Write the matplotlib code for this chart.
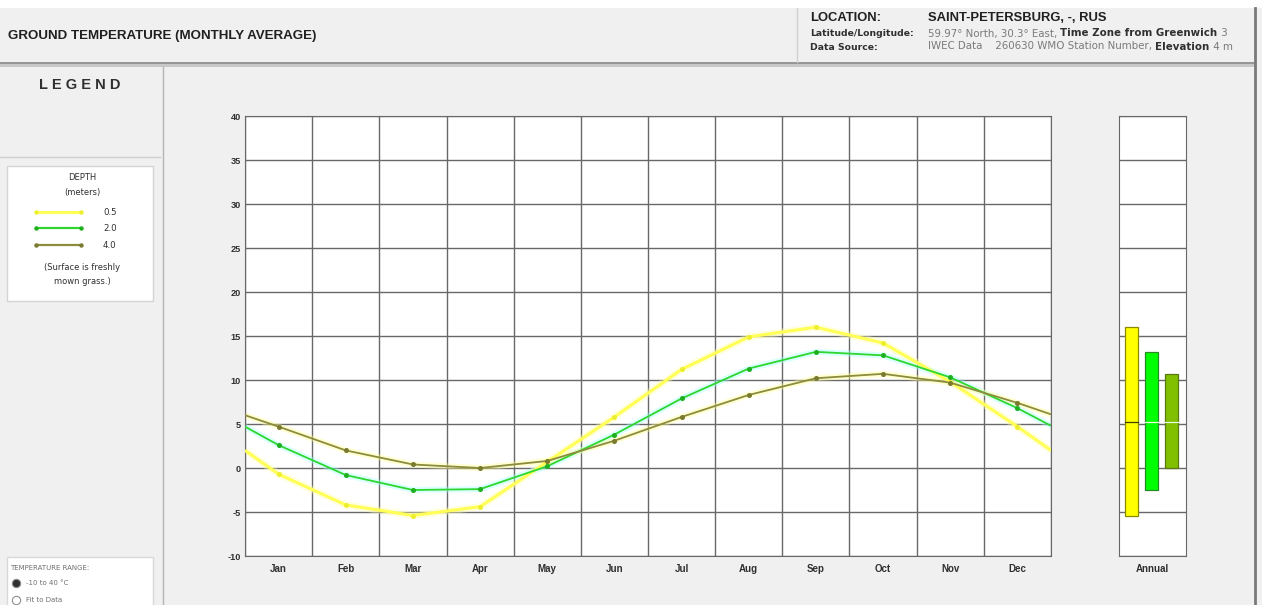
import numpy as np
import matplotlib
matplotlib.use("Agg")
import matplotlib.pyplot as plt
from matplotlib.patches import Rectangle
from matplotlib.lines import Line2D

plt.rcParams['font.family'] = ['Liberation Sans', 'DejaVu Sans']

# ---- monthly average ground temperature (C) at three depths ----
months = ['Jan', 'Feb', 'Mar', 'Apr', 'May', 'Jun',
          'Jul', 'Aug', 'Sep', 'Oct', 'Nov', 'Dec']
depths = ['0.5', '2.0', '4.0']
temp_05 = [-0.7, -4.2, -5.4, -4.4, 0.7, 5.8, 11.2, 14.9, 16.0, 14.2, 9.8, 4.7]
temp_20 = [2.6, -0.8, -2.5, -2.4, 0.2, 3.8, 7.9, 11.3, 13.2, 12.8, 10.3, 6.8]
temp_40 = [4.7, 2.0, 0.4, 0.0, 0.8, 3.1, 5.8, 8.3, 10.2, 10.7, 9.7, 7.4]
# values where the curves meet the year boundaries (1 Jan / 31 Dec)
edge_start = [2.0, 4.7, 6.0]
edge_end = [2.0, 4.8, 6.1]
yticks = [-10, -5, 0, 5, 10, 15, 20, 25, 30, 35, 40]

line_cols = ['#ffff55', '#2fd62f', '#8c8c3c']
halo_cols = ['#ffffb0', '#a0ffff', '#ffff90']
mark_cols = ['#eeee30', '#1fb01f', '#7a7a30']
bar_cols = ['#ffff00', '#00ff00', '#80c000']
bar_edge = ['#8a8a00', '#2a8a2a', '#5a7a10']

W, H = 1262, 605
fig = plt.figure(figsize=(W / 100, H / 100), dpi=100, facecolor='#f0f0f0')
VERA = ['DejaVu Sans']


def fx(x):
    return x / W


def fy(y):
    return 1 - y / H


def px_axes(x0, y0, x1, y1):
    return fig.add_axes([fx(x0), fy(y1), fx(x1) - fx(x0), fy(y0) - fy(y1)])


def rect(x0, y0, x1, y1, fc, ec='none', lw=0.0, z=0):
    fig.patches.append(Rectangle((fx(x0), fy(y1)), fx(x1) - fx(x0), fy(y0) - fy(y1),
                                 transform=fig.transFigure, facecolor=fc,
                                 edgecolor=ec, linewidth=lw, zorder=z))


def hline(y, x0, x1, c, lw=1.0):
    fig.add_artist(Line2D([fx(x0), fx(x1)], [fy(y), fy(y)], color=c, lw=lw,
                          transform=fig.transFigure))


def vline(x, y0, y1, c, lw=1.0):
    fig.add_artist(Line2D([fx(x), fx(x)], [fy(y0), fy(y1)], color=c, lw=lw,
                          transform=fig.transFigure))


def dot(x, y, fc, ec, ms):
    fig.add_artist(Line2D([fx(x)], [fy(y)], ls='none', marker='o', ms=ms,
                          mfc=fc, mec=ec, mew=0.8, transform=fig.transFigure))


# ---- page frame ----
rect(0, 0, W, 8, 'white')
rect(0, 62, 1255, 67, '#c8c8c8')
hline(63, 0, 1255, '#8c8c8c', 1.2)
vline(1255, 8, 605, '#7a7a7a', 2.0)
vline(163, 67, 605, '#b4b4b4', 1.0)
vline(797, 8, 62, '#d0d0d0', 1.0)

fig.text(fx(8), fy(36), 'GROUND TEMPERATURE (MONTHLY AVERAGE)', fontsize=9.6,
         fontweight='bold', color='#202020', va='center')

renderer = fig.canvas.get_renderer()


def chain(x, y, parts):
    # draw consecutive text pieces on one baseline
    for s, kw in parts:
        t = fig.text(fx(x), fy(y), s, va='baseline', **kw)
        x += t.get_window_extent(renderer).width
    return x


fig.text(fx(810), fy(18), 'LOCATION:', fontsize=9.4, fontweight='bold',
         color='#202020', va='center')
fig.text(fx(928), fy(18), 'SAINT-PETERSBURG, -, RUS', fontsize=9.4,
         fontweight='bold', color='#202020', va='center')
label_b = dict(fontsize=6.7, fontweight='bold', color='#303030', family=VERA)
small_b = dict(fontsize=7.4, fontweight='bold', color='#303030', family=VERA)
small_g = dict(fontsize=7.4, color='#7a7a7a', family=VERA)
fig.text(fx(810), fy(36.5), 'Latitude/Longitude:', va='baseline', **label_b)
fig.text(fx(810), fy(49.5), 'Data Source:', va='baseline', **label_b)
chain(928, 36.5, [('59.97\u00b0 North, 30.3\u00b0 East, ', small_g),
                  ('Time Zone from Greenwich', small_b), (' 3', small_g)])
chain(928, 49.5, [('IWEC Data    260630 WMO Station Number, ', small_g),
                  ('Elevation', small_b), (' 4 m', small_g)])

# ---- left panel: legend ----
fig.text(fx(80), fy(85), 'L E G E N D', fontsize=10.5, fontweight='bold',
         color='#303030', ha='center', va='center')
hline(157, 0, 160, '#cfcfcf', 1.0)
rect(7, 166, 153, 301, 'white', '#d4d4d4', 1.0)
leg_kw = dict(fontsize=6.0, color='#303030', ha='center', va='center', family=VERA)
fig.text(fx(82), fy(178), 'DEPTH', **leg_kw)
fig.text(fx(82), fy(192), '(meters)', **leg_kw)
for i, lab in enumerate(depths):
    yy = 212 + 16.5 * i
    fig.add_artist(Line2D([fx(36), fx(81)], [fy(yy), fy(yy)], color=line_cols[i],
                          lw=1.6 if i else 2.2, transform=fig.transFigure))
    fig.add_artist(Line2D([fx(36), fx(81)], [fy(yy), fy(yy)], ls='none', marker='o',
                          ms=2.2, color=mark_cols[i], transform=fig.transFigure))
    fig.text(fx(103), fy(yy), lab, fontsize=6.2, color='#303030', va='center',
             family=VERA)
fig.text(fx(82), fy(267), '(Surface is freshly', **leg_kw)
fig.text(fx(82), fy(282), 'mown grass.)', **leg_kw)

rect(7, 557, 153, 610, 'white', '#d8d8d8', 1.0)
tiny = dict(fontsize=5.0, color='#707070', va='center', family=VERA)
fig.text(fx(10), fy(568), 'TEMPERATURE RANGE:', **tiny)
dot(16, 583, '#303030', '#909090', 6)
fig.text(fx(26), fy(583), '-10 to 40 \u00b0C', **tiny)
dot(16, 600, 'white', '#909090', 6)
fig.text(fx(26), fy(600), 'Fit to Data', **tiny)

# ---- main chart ----
grid_c = '#686868'
ax = px_axes(245, 116, 1051, 556)
ax.set_xlim(0, 12)
ax.set_ylim(-10, 40)
ax.set_facecolor('white')
for v in yticks:
    ax.axhline(v, color=grid_c, lw=1.0, zorder=1)
for m in range(13):
    ax.axvline(m, color=grid_c, lw=1.0, zorder=1)
for s in ax.spines.values():
    s.set_color(grid_c)
ax.set_yticks(yticks)
ax.set_yticklabels([str(v) for v in yticks], fontsize=6.6, fontweight='bold', color='#303030')
ax.set_xticks(np.arange(12) + 0.5)
ax.set_xticklabels(months, fontsize=7.0, fontweight='bold', color='#303030')
ax.tick_params(length=0, pad=6)
ax.tick_params(axis='y', pad=3)

series = [temp_05, temp_20, temp_40]
xs = np.concatenate([[0], np.arange(12) + 0.5, [12]])
for i, vals in enumerate(series):
    ys = np.concatenate([[edge_start[i]], vals, [edge_end[i]]])
    lw = 2.2 if i == 0 else 1.3
    ax.plot(xs, ys, color=halo_cols[i], lw=lw + 3, alpha=0.4, zorder=2,
            solid_capstyle='butt')
    ax.plot(xs, ys, color=line_cols[i], lw=lw, zorder=3, solid_capstyle='butt')
    ax.plot(xs[1:-1], ys[1:-1], ls='none', marker='o', ms=2.6,
            color=mark_cols[i], zorder=4)

# ---- annual range bars ----
ax2 = px_axes(1119, 116, 1186, 556)
ax2.set_xlim(0, 1)
ax2.set_ylim(-10, 40)
ax2.set_facecolor('white')
for v in yticks:
    ax2.axhline(v, color=grid_c, lw=1.0, zorder=1)
for s in ax2.spines.values():
    s.set_color(grid_c)
ax2.set_yticks([])
ax2.set_xticks([0.5])
ax2.set_xticklabels(['Annual'], fontsize=7.0, fontweight='bold', color='#303030')
ax2.tick_params(length=0, pad=6)
bar_x = [0.19, 0.49, 0.78]
for i, vals in enumerate(series):
    lo, hi = min(vals), max(vals)
    ax2.bar(bar_x[i], hi - lo, bottom=lo, width=0.19, color=bar_cols[i],
            edgecolor=bar_edge[i], lw=0.9, zorder=3)
    mean = float(np.mean(vals))
    ax2.plot([bar_x[i] - 0.095, bar_x[i] + 0.095], [mean, mean],
             color='#404000' if i == 0 else '#e8ffe0', lw=0.9, zorder=4)

fig.savefig('out.png', dpi=100, facecolor=fig.get_facecolor())
